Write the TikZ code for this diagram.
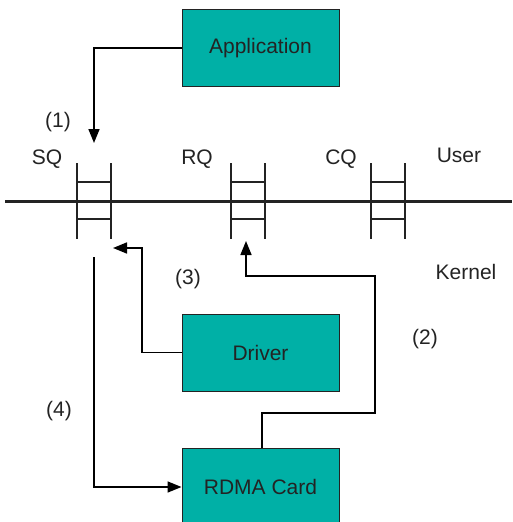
\documentclass[tikz,border=0pt]{standalone}
\usepackage{fontspec}
\setmainfont{Liberation Sans}
\usetikzlibrary{arrows.meta}

\definecolor{cardteal}{RGB}{0,176,166}
\definecolor{inkgray}{RGB}{35,35,35}

\begin{document}
\begin{tikzpicture}
  [x=1pt,y=-1pt,font=\fontsize{21}{25}\selectfont,text=inkgray,
   every node/.style={inner sep=0pt},
   box/.style={draw=inkgray,line width=1pt,fill=cardteal,minimum width=157pt,minimum height=77pt},
   flow/.style={line width=1.6pt,-{Triangle[length=14pt,width=11pt]}},
   qline/.style={line width=1.7pt,inkgray}]
  \useasboundingbox (0,0) rectangle (512,522);

  \node[box] (app) at (260.5,48) {Application};
  \node[box] (drv) at (260.5,352.5) {Driver};
  \node[box] (card) at (260.5,487) {RDMA Card};

  % user / kernel line and the three queues
  \draw[line width=3pt,inkgray] (5,201) -- (512,201);
  \foreach \q/\x in {sq/77,rq/231,cq/371} {
    \draw[qline] (\x,163) -- (\x,239) (\x+34,163) -- (\x+34,239);
    \draw[qline] (\x,182) -- (\x+34,182) (\x,219) -- (\x+34,219);
  }

  \node (sqlbl) at (47,159) {SQ};
  \node (rqlbl) at (197,159) {RQ};
  \node (cqlbl) at (341,159) {CQ};
  \node (user) at (459,155) {User};
  \node (kernel) at (466,272) {Kernel};

  \coordinate (sqin) at (94,143);
  \coordinate (sqret) at (113,248);
  \coordinate (sqout) at (94,257);
  \coordinate (rqin) at (246,241);

  \draw[flow] (app.west |- 0,48) -| (sqin);
  \draw[flow] (drv.west) -| (142,248) -- (sqret);
  \draw[flow] (sqout) |- (card.west);
  \draw[flow] (card.north -| 262,0) |- (375,413) |- (246,276) -- (rqin);

  \node (s1) at (58,122) {(1)};
  \node (s3) at (188,279) {(3)};
  \node (s2) at (425,339) {(2)};
  \node (s4) at (59,411) {(4)};
\end{tikzpicture}
\end{document}
